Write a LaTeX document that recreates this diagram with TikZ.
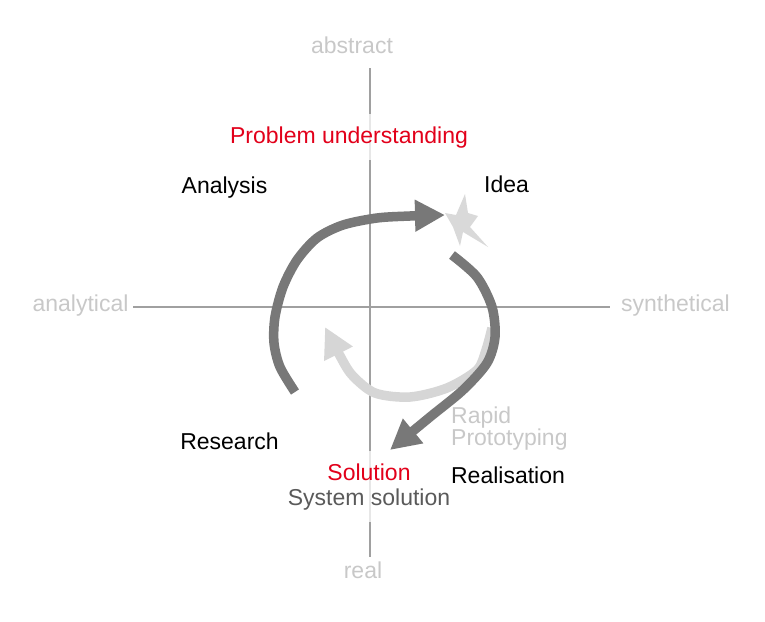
\documentclass[tikz,border=0pt]{standalone}
\usepackage{fontspec}
\setmainfont{Liberation Sans}
\usetikzlibrary{arrows.meta}
\definecolor{axisline}{HTML}{A0A0A0}
\definecolor{axislabel}{HTML}{C8C8C8}
\definecolor{stepred}{HTML}{E2001A}
\definecolor{solgray}{HTML}{5A5A5A}
\definecolor{flowdark}{HTML}{787878}
\definecolor{flowlight}{HTML}{D6D6D6}
\definecolor{starcol}{HTML}{D9D9D9}

\begin{document}
\begin{tikzpicture}[x=1pt,y=-1pt,
    lbl/.style={font=\fontsize{23}{25}\selectfont, inner sep=0pt, anchor=base},
    axlbl/.style={lbl, text=axislabel},
    onaxis/.style={lbl, fill=white, fill opacity=.75, text opacity=1, inner xsep=2pt, inner ysep=12pt},
    flow/.style={line width=9.5pt, -{Triangle[length=30pt,width=30pt]}}]
  \useasboundingbox (0,0) rectangle (765,621);
  \coordinate (top) at (370,68);
  \coordinate (bottom) at (370,557);
  \coordinate (left) at (133,307);
  \coordinate (right) at (610,307);
  \draw[axisline, line width=1.5pt] (top) -- (bottom);
  \draw[axisline, line width=1.5pt] (left) -- (right);

  \node[axlbl] (abstract) at (352,53) {abstract};
  \node[axlbl] (real) at (363,578) {real};
  \node[axlbl] (analytical) at (80.5,311) {analytical};
  \node[axlbl] (synthetical) at (675.5,311) {synthetical};

  \node[onaxis, text=stepred] (problem) at (349,143) {Problem understanding};
  \node[lbl] (analysis) at (224.5,193) {Analysis};
  \node[lbl] (idea) at (506.5,192) {Idea};
  \node[lbl] (research) at (229.5,449) {Research};
  \node[lbl] (realisation) at (508,483) {Realisation};
  \node[lbl, text=axislabel, align=left, anchor=base west] (rapid) at (451,445) {Rapid\\[-3pt]Prototyping};
  \node[onaxis, align=center] (solution) at (369,505) {\textcolor{stepred}{Solution}\\\textcolor{solgray}{System solution}};

  \draw[flow, flowlight] plot[smooth] coordinates {(492,328) (486,350) (477,370) (447,388) (410,397) (375,393) (352,375) (339,354) (325,327)};
  \draw[flow, flowdark] plot[smooth] coordinates {(295,392) (280,367) (274,343) (275,317) (283,287) (297,260) (317,238) (343,225) (377,218) (410,216) (445,215)};
  \draw[flow, flowdark] plot[smooth] coordinates {(452,255) (477,277) (492,307) (495,337) (487,363) (463,390) (430,417) (390,450)};

  \fill[starcol] (465,194) -- (468,213) -- (478,216) -- (470,227) -- (488,247) -- (463,232) -- (460,246) -- (453,227) -- (445,213) -- (456,215) -- cycle;
\end{tikzpicture}
\end{document}
